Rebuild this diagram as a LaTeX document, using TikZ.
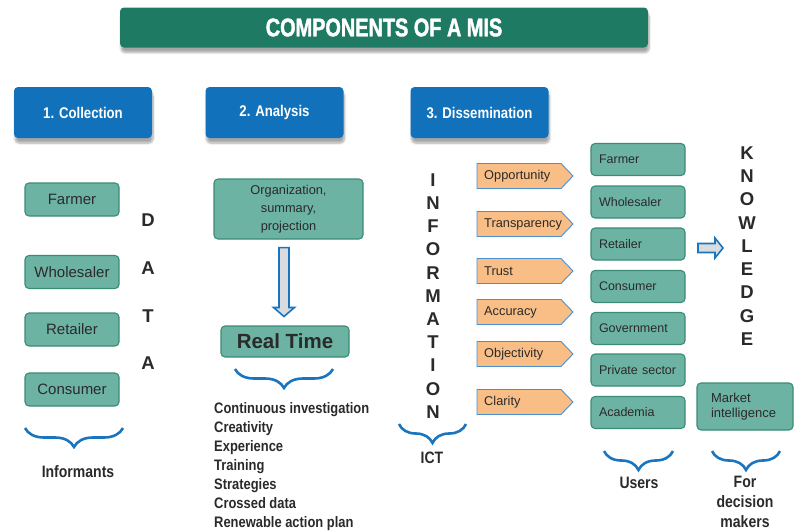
\documentclass[tikz,border=0pt]{standalone}
\usepackage{fontspec}
\setmainfont{Liberation Sans}
\newfontfamily\condb{Liberation Sans Bold}[FakeStretch=0.85]
\newfontfamily\titlef{Liberation Sans Bold}[FakeStretch=0.78,FakeBold=1.6]
\usetikzlibrary{shadows.blur,decorations.pathreplacing}
\definecolor{titlegreen}{HTML}{1F7A63}
\definecolor{stepblue}{HTML}{1172BB}
\definecolor{tealfill}{HTML}{6DB3A3}
\definecolor{tealedge}{HTML}{3A8C75}
\definecolor{orangefill}{HTML}{F9BE86}
\definecolor{orangeedge}{HTML}{4A90D2}
\definecolor{braceblue}{HTML}{1B75BE}
\definecolor{txt}{HTML}{2A2A2A}
\definecolor{arrowgray}{HTML}{D8DCDF}
\begin{document}
\begin{tikzpicture}[x=1pt,y=-1pt,
  titlebox/.style={fill=titlegreen, rounded corners=4pt, text=white, font=\titlef\fontsize{25.5}{28}\selectfont,
    minimum width=528pt, minimum height=40pt, inner sep=0pt,
    blur shadow={shadow xshift=1pt, shadow yshift=-5pt, shadow opacity=35, shadow blur steps=8}},
  phasebox/.style={fill=stepblue, rounded corners=4pt, text=white, font=\condb\fontsize{15.5}{18}\selectfont,
    minimum width=138pt, minimum height=51pt, inner sep=0pt,
    blur shadow={shadow xshift=1pt, shadow yshift=-5pt, shadow opacity=35, shadow blur steps=8}},
  tealbox/.style={fill=tealfill, draw=tealedge, line width=1.1pt, rounded corners=4pt, text=txt, inner sep=0pt},
  leftbox/.style={tealbox, minimum width=94pt, minimum height=33pt, font=\fontsize{15}{17}\selectfont},
  userbox/.style={tealbox, minimum width=94pt, minimum height=32pt, font=\fontsize{12.5}{15}\selectfont,
    inner xsep=8pt, text width=78pt, align=left},
  bigletter/.style={font=\bfseries\fontsize{18.5}{18.5}\selectfont, text=txt, inner sep=0pt},
  orangearrow/.style={fill=orangefill, draw=orangeedge, line width=0.9pt},
  orangelabel/.style={font=\fontsize{12.8}{14}\selectfont, text=txt, inner sep=0pt, anchor=west},
  curly/.style={draw=braceblue, line width=2.6pt, decorate, decoration={brace, mirror, amplitude=19pt}},
  bottomlabel/.style={font=\condb\fontsize{16.5}{20}\selectfont, text=txt, inner sep=0pt, align=center},
  hollowarrow/.style={fill=arrowgray, draw=braceblue, line width=1.6pt, line join=miter}
]
\useasboundingbox (0,0) rectangle (801,531);

% title and phases
\node[titlebox] (title) at (384,27.5) {COMPONENTS OF A MIS};
\node[phasebox] (collect) at (83,112.5) {1. Collection};
\node[phasebox] (analysis) at (274.5,112.5) {2. Analysis};
\node[phasebox] (dissem) at (479.5,112.5) {3. Dissemination};

% collection column
\node[leftbox] (lfarmer) at (72,199.5) {Farmer};
\node[leftbox] (lwhole) at (72,272) {Wholesaler};
\node[leftbox] (lretail) at (72,329.5) {Retailer};
\node[leftbox] (lconsum) at (72,389.5) {Consumer};
\node[bigletter] (d1) at (148,220.5) {D};
\node[bigletter] (d2) at (148,268) {A};
\node[bigletter] (d3) at (148,316) {T};
\node[bigletter] (d4) at (148,363.5) {A};
\draw[curly] (25,428) -- (123,428);
\node[bottomlabel, anchor=base] (informants) at (78,477) {Informants};

% analysis column
\node[tealbox, minimum width=149pt, minimum height=60pt, font=\fontsize{12.8}{18}\selectfont, align=center] (org) at (288.5,209) {Organization,\\summary,\\projection};
\node[tealbox, minimum width=128pt, minimum height=31pt, font=\bfseries\fontsize{20.5}{22}\selectfont] (realtime) at (285,341.5) {Real Time};
\path (realtime.north) ++(-1,-9) coordinate (atip);
\path (org.south -| atip) ++(0,8) coordinate (atop);
\draw[hollowarrow] ([xshift=-5pt]atop) -- ([xshift=-5pt,yshift=9pt]atip) -- ([xshift=-10.5pt,yshift=9pt]atip)
  -- (atip) -- ([xshift=10.5pt,yshift=9pt]atip) -- ([xshift=5pt,yshift=9pt]atip) -- ([xshift=5pt]atop) -- cycle;
\draw[curly] (235,369) -- (333,369);
\node[font=\condb\fontsize{15.2}{19}\selectfont, text=txt, inner sep=0pt, align=left, anchor=north west] (list) at (214,401.8)
  {Continuous investigation\\Creativity\\Experience\\Training\\Strategies\\Crossed data\\Renewable action plan};

% dissemination column
\foreach \ch [count=\i from 0] in {I,N,F,O,R,M,A,T,I,O,N}
  \node[bigletter] (info\i) at (433,180+23.2*\i) {\ch};
\draw[curly] (399,424) -- (466,424);
\node[bottomlabel, anchor=base] (ict) at (432,463) {ICT};

\foreach \y/\t/\n in {176/Opportunity/opp, 224/Transparency/transp, 271/Trust/trust, 312/Accuracy/accur, 354/Objectivity/objec, 402/Clarity/clar}{
  \draw[orangearrow] (477,\y-12.5) -- (561,\y-12.5) -- (573,\y) -- (561,\y+12.5) -- (477,\y+12.5) -- cycle;
  \node[orangelabel] (\n) at (484,\y) {\t};
}

\node[userbox] (ufarmer) at (638,159.5) {Farmer};
\node[userbox] (uwhole) at (638,202) {Wholesaler};
\node[userbox] (uretail) at (638,244) {Retailer};
\node[userbox] (uconsum) at (638,286.5) {Consumer};
\node[userbox] (ugov) at (638,328.5) {Government};
\node[userbox] (upriv) at (638,370) {Private sector};
\node[userbox] (uacad) at (638,412.5) {Academia};

\coordinate (ka) at (698,248);
\coordinate (kb) at (723,248);
\draw[hollowarrow] ([yshift=-4.5pt]ka) -- ([xshift=-8pt,yshift=-4.5pt]kb) -- ([xshift=-8pt,yshift=-10pt]kb) -- (kb)
  -- ([xshift=-8pt,yshift=10pt]kb) -- ([xshift=-8pt,yshift=4.5pt]kb) -- ([yshift=4.5pt]ka) -- cycle;

\foreach \ch [count=\i from 0] in {K,N,O,W,L,E,D,G,E}
  \node[bigletter] (know\i) at (747,153+23.25*\i) {\ch};

\node[tealbox, minimum width=96pt, minimum height=47pt, font=\fontsize{13}{14.5}\selectfont, inner xsep=14pt, text width=68pt, align=left] (market) at (745,406.5) {Market\\intelligence};

\draw[curly] (604,451) -- (673,451);
\draw[curly] (712,451) -- (780,451);
\node[bottomlabel, anchor=base] (users) at (639,488) {Users};
\node[bottomlabel, anchor=north, font=\condb\fontsize{16.5}{20}\selectfont] (decision) at (745,476) {For\\decision\\makers};
\end{tikzpicture}
\end{document}
